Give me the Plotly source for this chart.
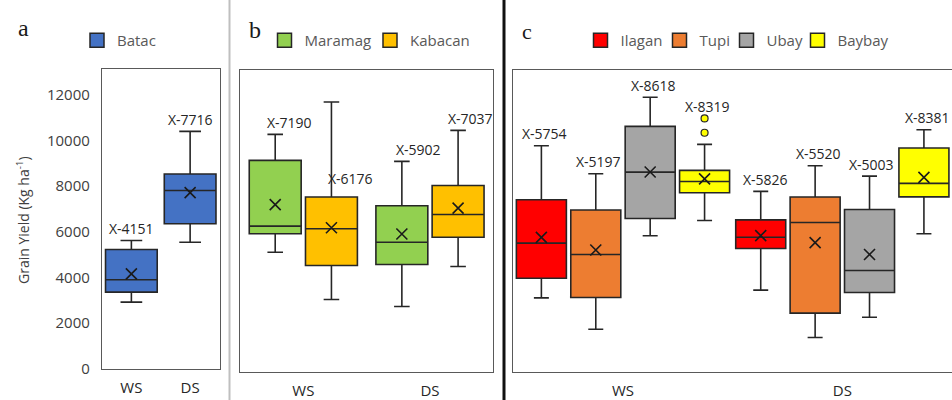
import plotly.graph_objects as go

# ---------------- data ----------------
seasons = ["WS", "DS"]
y_ticks = [0, 2000, 4000, 6000, 8000, 10000, 12000]
y_tick_labels = [str(v) for v in y_ticks]

sites_a = ["Batac"]
sites_b = ["Maramag", "Kabacan"]
sites_c = ["Ilagan", "Tupi", "Ubay", "Baybay"]

# per site: [WS, DS]
lower = {
    "Batac": [2910, 5540],
    "Maramag": [5100, 2720], "Kabacan": [3030, 4475],
    "Ilagan": [3100, 3440], "Tupi": [1725, 1360], "Ubay": [5820, 2250], "Baybay": [6494, 5910],
}
q1 = {
    "Batac": [3350, 6350],
    "Maramag": [5910, 4560], "Kabacan": [4520, 5760],
    "Ilagan": [3960, 5265], "Tupi": [3115, 2430], "Ubay": [6580, 3335], "Baybay": [7710, 7530],
}
median = {
    "Batac": [3890, 7810],
    "Maramag": [6245, 5540], "Kabacan": [6130, 6757],
    "Ilagan": [5500, 5760], "Tupi": [5000, 6406], "Ubay": [8615, 4300], "Baybay": [8205, 8120],
}
q3 = {
    "Batac": [5221, 8530],
    "Maramag": [9127, 7140], "Kabacan": [7520, 8030],
    "Ilagan": [7400, 6520], "Tupi": [6950, 7520], "Ubay": [10620, 6977], "Baybay": [8690, 9670],
}
upper = {
    "Batac": [5617, 10400],
    "Maramag": [10270, 9083], "Kabacan": [11690, 10443],
    "Ilagan": [9770, 7770], "Tupi": [8540, 8890], "Ubay": [11900, 8440], "Baybay": [9830, 10470],
}
mean = {
    "Batac": [4151, 7716],
    "Maramag": [7190, 5902], "Kabacan": [6176, 7037],
    "Ilagan": [5754, 5826], "Tupi": [5197, 5520], "Ubay": [8618, 5003], "Baybay": [8319, 8381],
}
# outliers: (site, season index, values)
outliers = [("Baybay", 0, [10340, 10970])]

# ---------------- styles ----------------
colors = {
    "Batac": "#4472C4", "Maramag": "#92D050", "Kabacan": "#FFC000",
    "Ilagan": "#FF0000", "Tupi": "#ED7D31", "Ubay": "#A5A5A5", "Baybay": "#FFFF00",
}
W, H = 952, 400
FONT = "Open Sans"
EDGE = "#262626"

panels = [
    dict(ax="", sites=sites_a, offs=[0.0], width=0.88, ww=0.42),
    dict(ax="2", sites=sites_b, offs=[-0.222, 0.222], width=0.41, ww=0.3),
    dict(ax="3", sites=sites_c, offs=[-0.372, -0.124, 0.124, 0.372], width=0.228, ww=0.3),
]
# label shifts (px) per site/season
label_xshift = {
    "Batac": [0, 0], "Maramag": [14, 17], "Kabacan": [19, 12],
    "Ilagan": [3, 5], "Tupi": [3, 3], "Ubay": [3, 2], "Baybay": [3, 4],
}
# legend symbol centres (px)
legend_px = {"Batac": 96, "Maramag": 283.5, "Kabacan": 389,
             "Ilagan": 599.5, "Tupi": 678.5, "Ubay": 745.5, "Baybay": 816.5}

fig = go.Figure()
annotations = []
legend_layouts = {}
leg_i = 0

for p in panels:
    xa, ya = "x" + p["ax"], "y" + p["ax"]
    for s, off in zip(p["sites"], p["offs"]):
        pos = [i + off for i in range(len(seasons))]
        fig.add_trace(go.Box(
            x=pos, q1=q1[s], median=median[s], q3=q3[s],
            lowerfence=lower[s], upperfence=upper[s],
            width=p["width"], whiskerwidth=p["ww"],
            fillcolor=colors[s], line=dict(color=EDGE, width=1.6),
            boxpoints=False, showlegend=False, hoverinfo="skip",
            xaxis=xa, yaxis=ya,
        ))
        fig.add_trace(go.Scatter(
            x=pos, y=mean[s], mode="markers",
            marker=dict(symbol="x-thin", size=11, line=dict(width=1.6, color="#1a1a1a")),
            showlegend=False, hoverinfo="skip", xaxis=xa, yaxis=ya,
        ))
        for (os_, oi, ov) in outliers:
            if os_ == s:
                fig.add_trace(go.Scatter(
                    x=[pos[oi]] * len(ov), y=ov, mode="markers",
                    marker=dict(symbol="circle", size=7, color=colors[s],
                                line=dict(color=EDGE, width=1.2)),
                    showlegend=False, hoverinfo="skip", xaxis=xa, yaxis=ya,
                ))
        # labels
        for i in range(len(seasons)):
            top = upper[s][i]
            for (os_, oi, ov) in outliers:
                if os_ == s and oi == i:
                    top = max(ov)
            yshift = 12
            if s == "Kabacan" and i == 0:
                top = q3[s][i]
                yshift = 19
            annotations.append(dict(
                x=pos[i], y=top, xref=xa, yref=ya, text=f"X-{mean[s][i]}",
                showarrow=False, yanchor="middle", yshift=yshift,
                xshift=label_xshift[s][i],
                font=dict(family=FONT, size=14, color="#262626"),
            ))
        # legend entry
        leg_i += 1
        lname = "legend" if leg_i == 1 else f"legend{leg_i}"
        fig.add_trace(go.Scatter(
            x=[None], y=[None], mode="markers", name=s,
            marker=dict(symbol="square", size=14, color=colors[s],
                        line=dict(color=EDGE, width=1.5)),
            showlegend=True, legend=lname, xaxis=xa, yaxis=ya,
        ))
        legend_layouts[lname] = dict(
            x=(legend_px[s] - 19) / W, xanchor="left",
            y=(H - 40.5) / H, yanchor="middle",
            orientation="h", bgcolor="rgba(0,0,0,0)",
            font=dict(family=FONT, size=15, color="#595959"),
            itemclick=False, itemdoubleclick=False,
        )

def px_dom(a, b, total):
    return [a / total, b / total]

LINE = dict(showline=True, linecolor="#595959", linewidth=1.3)

layout = dict(
    width=W, height=H, margin=dict(l=0, r=0, t=0, b=0, autoexpand=False),
    paper_bgcolor="white", plot_bgcolor="white",
    showlegend=True,
    font=dict(family=FONT, color="#404040"),
    xaxis=dict(domain=px_dom(102, 219.5, W), range=[-0.5, 1.5], tickvals=[0, 1],
               ticktext=seasons, ticks="outside", ticklen=5, tickcolor="rgba(0,0,0,0)",
               tickfont=dict(size=15, color="#262626"), showgrid=False, zeroline=False,
               mirror=True, anchor="y", automargin=False, **LINE),
    yaxis=dict(domain=[(H - 369.3) / H, (H - 69.3) / H], range=[-35, 13123],
               autorange=False, tickvals=y_ticks, ticktext=y_tick_labels,
               ticks="outside", ticklen=8, tickcolor="rgba(0,0,0,0)",
               tickfont=dict(size=15, color="#404040"), showgrid=False, zeroline=False,
               mirror=True, anchor="x", automargin=False, **LINE),
    xaxis2=dict(domain=px_dom(240, 493.3, W), range=[-0.5, 1.5], tickvals=[0, 1],
                ticktext=seasons, ticks="outside", ticklen=5, tickcolor="rgba(0,0,0,0)",
                tickfont=dict(size=15, color="#262626"), showgrid=False, zeroline=False,
                mirror=True, anchor="y2", automargin=False, **LINE),
    yaxis2=dict(domain=[(H - 371.5) / H, (H - 70) / H], range=[-130, 13092],
                autorange=False, showticklabels=False, showgrid=False, zeroline=False,
                mirror=True, anchor="x2", automargin=False, **LINE),
    xaxis3=dict(domain=px_dom(513.3, 952, W), range=[-0.5, 1.5], tickvals=[0, 1],
                ticktext=seasons, ticks="outside", ticklen=5, tickcolor="rgba(0,0,0,0)",
                tickfont=dict(size=15, color="#262626"), showgrid=False, zeroline=False,
                mirror=True, anchor="y3", automargin=False, **LINE),
    yaxis3=dict(domain=[(H - 371.5) / H, (H - 70) / H], range=[-130, 13092],
                autorange=False, showticklabels=False, showgrid=False, zeroline=False,
                mirror=False, anchor="x3", automargin=False, **LINE),
)
layout.update(legend_layouts)

# panel letters and axis title
for letter, lx, ly, fs in [("a", 23, 28, 24), ("b", 254.5, 30, 24), ("c", 527, 32, 22)]:
    annotations.append(dict(x=lx / W, y=(H - ly) / H, xref="paper", yref="paper",
                            text=letter, showarrow=False, xanchor="center", yanchor="middle",
                            font=dict(family="Liberation Serif", size=fs, color="#1a1a1a")))
annotations.append(dict(x=23 / W, y=(H - 220) / H, xref="paper", yref="paper",
                        text="Grain Yield (Kg ha<sup>-1</sup>)", textangle=-90,
                        showarrow=False, xanchor="center", yanchor="middle",
                        font=dict(family=FONT, size=14, color="#404040")))
layout["annotations"] = annotations

layout["shapes"] = [
    dict(type="line", xref="paper", yref="paper", x0=229.5 / W, x1=229.5 / W, y0=0, y1=1,
         line=dict(color="#bfbfbf", width=2)),
    dict(type="line", xref="paper", yref="paper", x0=504 / W, x1=504 / W, y0=0, y1=1,
         line=dict(color="#111111", width=3)),
]

fig.update_layout(**layout)
fig.write_html("out.html")
